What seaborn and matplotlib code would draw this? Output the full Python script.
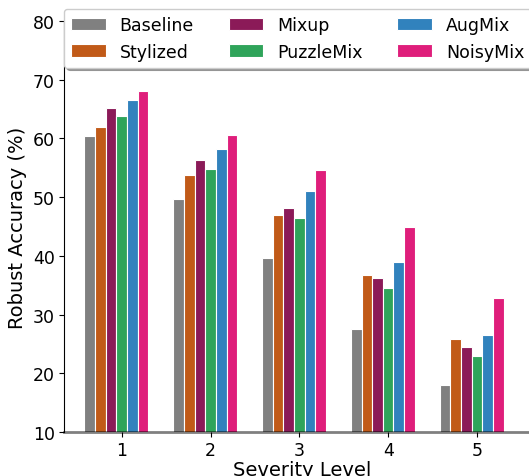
import numpy as np
import pandas as pd
import matplotlib as mpl
from matplotlib import pyplot as plt
import seaborn as sns

plt.rcParams['font.family'] = ['DejaVu Sans']

levels = ['1', '2', '3', '4', '5']
methods = ['Baseline', 'Stylized', 'Mixup', 'PuzzleMix', 'AugMix', 'NoisyMix']
colors = ['#808080', '#c15a18', '#8b1a58', '#2fa45a', '#3182bd', '#df1e7b']

baseline = [60.4, 49.7, 39.6, 27.5, 18.0]
stylized = [62.0, 53.8, 47.0, 36.7, 25.8]
mixup = [65.1, 56.3, 48.1, 36.2, 24.5]
puzzlemix = [63.8, 54.8, 46.4, 34.5, 22.9]
augmix = [66.6, 58.2, 51.0, 39.0, 26.5]
noisymix = [68.0, 60.6, 54.6, 44.9, 32.8]

values = [baseline, stylized, mixup, puzzlemix, augmix, noisymix]
df = pd.DataFrame([{'level': lvl, 'method': m, 'acc': v}
                   for m, vals in zip(methods, values)
                   for lvl, v in zip(levels, vals)])

fig = plt.figure(figsize=(5.29, 4.77), dpi=100)
ax = fig.add_axes([64 / 529, 44 / 477, 476 / 529, 411 / 477])

sns.barplot(data=df, x='level', y='acc', hue='method', order=levels, hue_order=methods,
            palette=colors, width=0.72, edgecolor='white', linewidth=0.8,
            saturation=1, ax=ax)

ax.set_xticks(np.arange(len(levels)) + 0.06, levels)
ax.set_xlim(-0.59, 4.77)
ax.set_ylim(10, 80)
ax.set_yticks(range(10, 81, 10))
ax.tick_params(labelsize=12.5, pad=3)
ax.set_xlabel('Severity Level', fontsize=14, labelpad=1)
ax.set_ylabel('Robust Accuracy (%)', fontsize=14)

ax.spines['top'].set_visible(False)
ax.spines['right'].set_visible(False)
ax.spines['bottom'].set_color('black')
ax.spines['bottom'].set_alpha(0.5)
ax.spines['bottom'].set_linewidth(2)

ax.legend(loc='upper left', bbox_to_anchor=(64 / 529, 467 / 477), bbox_transform=fig.transFigure,
          ncol=3, fontsize=12.5, shadow=True, borderaxespad=0, title=None)

fig.savefig('out.png', dpi=100)
